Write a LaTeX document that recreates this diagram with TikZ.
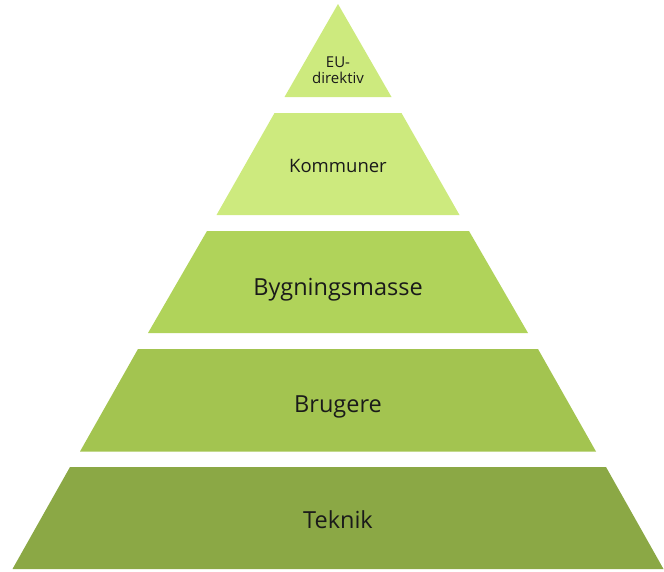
\documentclass[tikz,border=0pt]{standalone}
\usepackage{fontspec}
\setmainfont{Open Sans}
\usepackage{tikz}
\usetikzlibrary{positioning}
\definecolor{levelone}{HTML}{CDEA7E}
\definecolor{levelthree}{HTML}{B0D35A}
\definecolor{levelfour}{HTML}{A3C450}
\definecolor{levelfive}{HTML}{8BA845}
\definecolor{labelcolor}{HTML}{1A1A1A}

\begin{document}
\begin{tikzpicture}[x=1pt,y=-1pt,
  label/.style={anchor=base,text=labelcolor,inner sep=0pt}]
  \useasboundingbox (0,0) rectangle (664,571);
  % pyramid levels, top to bottom
  \fill[levelone] (338,4)--(391.5,97)--(284.5,97)--cycle;
  \fill[levelone] (274.5,113)--(401.5,113)--(459.5,215)--(216.5,215)--cycle;
  \fill[levelthree] (207,231)--(469,231)--(528,333)--(148,333)--cycle;
  \fill[levelfour] (138,349)--(538,349)--(596,451.5)--(80,451.5)--cycle;
  \fill[levelfive] (70,467)--(606,467)--(663.5,569)--(12.5,569)--cycle;
  % labels
  \node[label,font=\fontsize{15}{17}\selectfont] (eu) at (338,67) {EU-};
  \node[label,font=\fontsize{15}{17}\selectfont] (direktiv) at (338,83) {direktiv};
  \node[label,font=\fontsize{18.5}{22}\selectfont] (kommuner) at (338,172) {Kommuner};
  \node[label,font=\fontsize{23.5}{28}\selectfont] (bygning) at (338,295) {Bygningsmasse};
  \node[label,font=\fontsize{23.5}{28}\selectfont] (brugere) at (338,412) {Brugere};
  \node[label,font=\fontsize{23.5}{28}\selectfont] (teknik) at (338,528) {Teknik};
\end{tikzpicture}
\end{document}
